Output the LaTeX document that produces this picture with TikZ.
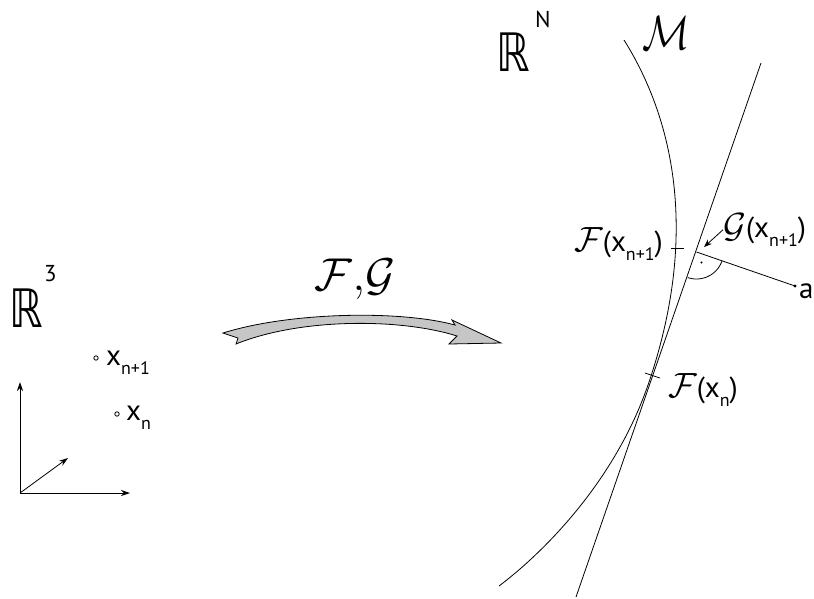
\RequirePackage{fix-cm}
\documentclass[tikz,border=0pt]{standalone}
\usepackage{fontspec}
\usepackage{graphicx}
\setmainfont{PT Sans}
\newfontfamily\dsfont{DejaVu Sans}
\usetikzlibrary{arrows.meta}

% low subscript and script letters as in the sketch
\newcommand\lsub[1]{\raisebox{-0.65ex}{\fontsize{18}{20}\selectfont #1}}
\newcommand\calsym[1]{{\fontsize{35}{38}\selectfont$\mathcal{#1}$}}

\begin{document}
\begin{tikzpicture}[
  x=1pt, y=-1pt,
  >={Stealth[length=9pt, width=6pt]},
  lab/.style ={inner sep=0pt, font=\fontsize{29}{32}\selectfont},
  big/.style ={inner sep=0pt, font=\fontsize{53}{60}\selectfont\dsfont},
  expo/.style={inner sep=0pt, font=\fontsize{23}{26}\selectfont},
  thin/.style={line width=0.8pt},
  pt/.style  ={thin, fill=white},
  fatarrow/.style={line width=0.8pt, fill=gray!45, line join=miter},
]
\useasboundingbox (0,0) rectangle (814,598);

% ---------- left: R^3 with two sample points ----------
\node[big, anchor=base west] (rthree) at (9,327) {\scalebox{0.8}[1]{ℝ}};
\node[expo, anchor=base west] (three) at (44,281) {3};

\coordinate (o)  at (20,493);
\coordinate (ay) at (20,382);
\coordinate (ax) at (130,493);
\coordinate (az) at (68,458);
\draw[thin,->] (o) -- (ay);
\draw[thin,->] (o) -- (ax);
\draw[thin,->] (o) -- (az);

\coordinate (p1) at (96,358);
\coordinate (p0) at (117,414);
\draw[pt] (p1) circle (2.2);
\draw[pt] (p0) circle (2.2);
\node[lab, anchor=base west] (xnp) at (106,365) {x\lsub{n+1}};
\node[lab, anchor=base west] (xn)  at (126,420) {x\lsub{n}};

% ---------- the map F,G ----------
\node[inner sep=0pt, anchor=base, font=\fontsize{46}{50}\selectfont] (fg) at (355,290)
  {$\mathcal{F}{,}\mathcal{G}$};
\draw[fatarrow] (223,333) .. controls (290,312) and (400,310) .. (455,325)
  -- (452,320) -- (501,343) -- (449,344) -- (457,336)
  .. controls (400,318) and (300,318) .. (236,344) -- (238,338) -- cycle;

% ---------- right: R^N, manifold M and tangent line ----------
\node[big, anchor=base west] (rn) at (496,71) {\scalebox{0.8}[1]{ℝ}};
\node[expo, anchor=base west] (nn) at (535,27) {N};
\node[inner sep=0pt, anchor=base, font=\fontsize{48}{52}\selectfont] (manif) at (666,49)
  {\scalebox{0.82}[1]{$\mathcal{M}$}};

\coordinate (T) at (648,385);
\draw[thin] (624,40) .. controls (668,110) and (703,225) .. (T)
  .. controls (613.5,485) and (539,556) .. (499,586);

\coordinate (ltop) at (761,63);
\coordinate (lbot) at (576,597);
\coordinate (G)    at (696.5,252);
\coordinate (a)    at (795,286);
\draw[thin] (ltop) -- (lbot);

% ticks on M
\draw[thin] (671,248) -- (684,248);
\draw[thin] (645,373) -- (660,378);
\node[lab, anchor=base east] (fxnp) at (663,251) {\calsym{F}(x\lsub{n+1})};
\node[lab, anchor=base west] (fxn)  at (668,397) {\calsym{F}(x\lsub{n})};

% projection G onto the tangent line
\draw[thin] (G) -- (a);
\fill (a) circle (1.7);
\node[lab, anchor=base west] (alab) at (799,298) {a};
\draw[thin] plot[domain=19:109, samples=40] ({696.5+27*cos(\x)},{252+27*sin(\x)});
\fill (701.5,262.5) circle (1.2);

\node[lab, anchor=base west] (gxnp) at (723,237) {\calsym{G}(x\lsub{n+1})};
\coordinate (gtip) at (704,247);
\draw[thin,->,>={Stealth[length=8pt,width=6pt]}] (gxnp.west) -- (gtip);

\end{tikzpicture}
\end{document}
